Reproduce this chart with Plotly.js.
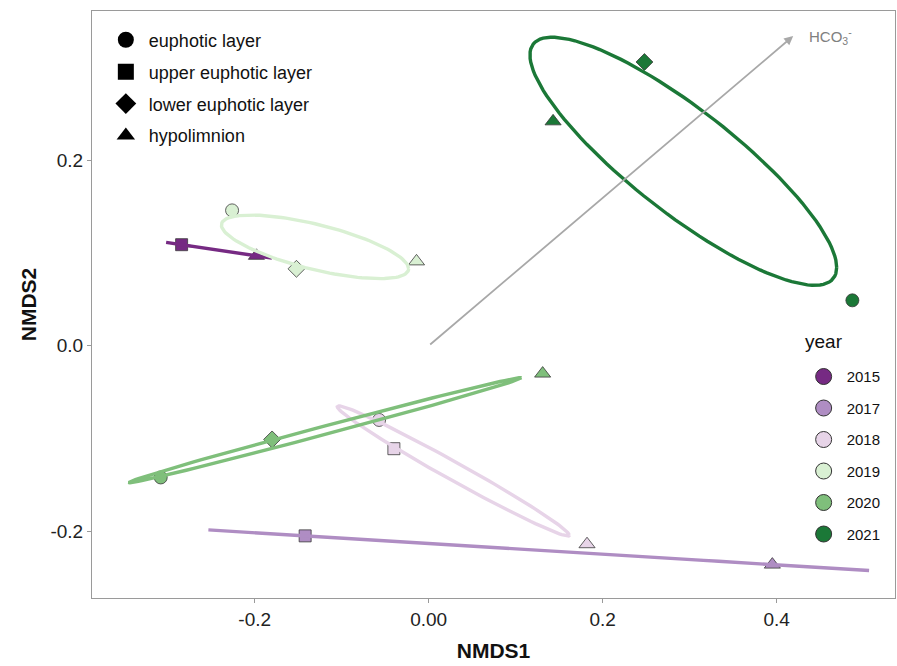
<!DOCTYPE html>
<html><head><meta charset="utf-8">
<script src="https://cdn.plot.ly/plotly-3.0.1.min.js"></script>
<style>html,body{margin:0;padding:0;background:#fff}#chart{width:897px;height:666px}</style>
</head><body><div id="chart"></div>
<script>
// ---- data ----
const years = ['2015', '2017', '2018', '2019', '2020', '2021'];
const yearColors = ['#762a83', '#af8dc3', '#e7d4e8', '#d9f0d3', '#7fbf7b', '#1b7837'];
const layers = ['euphotic layer', 'upper euphotic layer', 'lower euphotic layer', 'hypolimnion'];
const layerSymbols = ['circle', 'square', 'diamond', 'triangle-up'];

const sampleYear = ['2015', '2015', '2017', '2017', '2018', '2018', '2018',
  '2019', '2019', '2019', '2020', '2020', '2020', '2021', '2021', '2021'];
const sampleLayer = ['upper euphotic layer', 'hypolimnion',
  'upper euphotic layer', 'hypolimnion',
  'euphotic layer', 'upper euphotic layer', 'hypolimnion',
  'euphotic layer', 'lower euphotic layer', 'hypolimnion',
  'euphotic layer', 'lower euphotic layer', 'hypolimnion',
  'lower euphotic layer', 'hypolimnion', 'euphotic layer'];
const nmds1 = [-0.284, -0.198, -0.142, 0.395, -0.057, -0.040, 0.182,
  -0.226, -0.152, -0.014, -0.308, -0.180, 0.131, 0.248, 0.143, 0.487];
const nmds2 = [0.109, 0.097, -0.205, -0.236, -0.080, -0.111, -0.214,
  0.146, 0.083, 0.091, -0.142, -0.101, -0.030, 0.306, 0.242, 0.049];

const vectorLabels = ['HCO<sub>3</sub><sup>-</sup>'];
const vectorNMDS1 = [0.419];
const vectorNMDS2 = [0.334];

const xTickVals = [-0.2, 0, 0.2, 0.4];
const xTickText = ['-0.2', '0.00', '0.2', '0.4'];
const yTickVals = [-0.2, 0, 0.2];
const yTickText = ['-0.2', '0.0', '0.2'];

// ---- styles ----
const FONT = 'Liberation Sans, Arial, sans-serif';
const symbolSize = {'circle': 13, 'square': 12, 'diamond': 13, 'triangle-up': 14};

// standard-deviation ellipse (as vegan::ordiellipse kind = "sd")
function sdEllipse(xs, ys) {
  const n = xs.length;
  const mx = xs.reduce((a, b) => a + b, 0) / n;
  const my = ys.reduce((a, b) => a + b, 0) / n;
  let sxx = 0, syy = 0, sxy = 0;
  for (let i = 0; i < n; i++) {
    sxx += (xs[i] - mx) ** 2; syy += (ys[i] - my) ** 2; sxy += (xs[i] - mx) * (ys[i] - my);
  }
  sxx /= (n - 1); syy /= (n - 1); sxy /= (n - 1);
  const l11 = Math.sqrt(sxx), l21 = sxy / l11, l22 = Math.sqrt(Math.max(0, syy - l21 * l21));
  const ex = [], ey = [];
  for (let k = 0; k <= 120; k++) {
    const t = 2 * Math.PI * k / 120;
    const c = Math.cos(t), s = Math.sin(t);
    ex.push(mx + l11 * c);
    ey.push(my + l21 * c + l22 * s);
  }
  return {x: ex, y: ey};
}

const traces = [];
// points
years.forEach((yr, yi) => {
  const idx = sampleYear.map((v, i) => v === yr ? i : -1).filter(i => i >= 0);
  const syms = idx.map(i => layerSymbols[layers.indexOf(sampleLayer[i])]);
  traces.push({
    type: 'scatter', mode: 'markers', showlegend: false, hoverinfo: 'skip',
    x: idx.map(i => nmds1[i]), y: idx.map(i => nmds2[i]),
    marker: {symbol: syms, size: syms.map(s => symbolSize[s]), color: yearColors[yi], opacity: 1,
      line: {color: '#3a3a3a', width: 0.8}}
  });
});
// ellipses
years.forEach((yr, yi) => {
  const idx = sampleYear.map((v, i) => v === yr ? i : -1).filter(i => i >= 0);
  const e = sdEllipse(idx.map(i => nmds1[i]), idx.map(i => nmds2[i]));
  traces.push({
    type: 'scatter', mode: 'lines', showlegend: false, hoverinfo: 'skip',
    x: e.x, y: e.y, line: {color: yearColors[yi], width: 3.4}
  });
});
// legend: layers
layers.forEach((ly, li) => {
  traces.push({
    type: 'scatter', mode: 'markers', name: ly, x: [null], y: [null],
    legend: 'legend', legendgroup: 'L' + li,
    marker: {symbol: layerSymbols[li], size: 22, color: '#000', opacity: 1}
  });
});
// legend: years
years.forEach((yr, yi) => {
  traces.push({
    type: 'scatter', mode: 'markers', name: yr, x: [null], y: [null],
    legend: 'legend2', legendgroup: 'Y' + yi,
    marker: {symbol: 'circle', size: 22, color: yearColors[yi], opacity: 1, line: {color: '#333', width: 1}}
  });
});

const annotations = [];
vectorLabels.forEach((lab, i) => {
  annotations.push({
    x: vectorNMDS1[i], y: vectorNMDS2[i], ax: 0, ay: 0, axref: 'x', ayref: 'y',
    xref: 'x', yref: 'y', text: '', showarrow: true, arrowhead: 2, arrowsize: 1,
    arrowwidth: 1.8, arrowcolor: '#a8a8a8'
  });
  annotations.push({
    x: vectorNMDS1[i], y: vectorNMDS2[i], xref: 'x', yref: 'y', showarrow: false,
    text: lab, xanchor: 'left', yanchor: 'middle', xshift: 14, yshift: 0,
    font: {family: FONT, size: 15, color: '#808080'}
  });
});
// legend title for the year legend
annotations.push({
  xref: 'paper', yref: 'paper', x: 0.8855, y: 0.4375, xanchor: 'left', yanchor: 'middle',
  showarrow: false, text: 'year', font: {family: FONT, size: 19, color: '#111'}
});

const layout = {
  width: 897, height: 666,
  margin: {l: 92, r: 2, t: 11, b: 68},
  paper_bgcolor: '#fff', plot_bgcolor: '#fff',
  font: {family: FONT, color: '#222'},
  xaxis: {
    range: [-0.387, 0.536], tickvals: xTickVals, ticktext: xTickText,
    showgrid: false, zeroline: false, showline: true, mirror: true,
    linecolor: '#9a9a9a', linewidth: 1, ticks: 'outside', ticklen: 4, tickcolor: '#9a9a9a',
    tickfont: {family: FONT, size: 19, color: '#222'},
    title: {text: '<b>NMDS1</b>', font: {family: FONT, size: 21, color: '#111'}, standoff: 14}
  },
  yaxis: {
    range: [-0.272, 0.361], tickvals: yTickVals, ticktext: yTickText,
    showgrid: false, zeroline: false, showline: true, mirror: true,
    linecolor: '#9a9a9a', linewidth: 1, ticks: 'outside', ticklen: 4, tickcolor: '#9a9a9a',
    tickfont: {family: FONT, size: 19, color: '#222'},
    title: {text: '<b>NMDS2</b>', font: {family: FONT, size: 21, color: '#111'}, standoff: 8}
  },
  legend: {
    x: 0.0135, y: 0.982, xanchor: 'left', yanchor: 'top', bgcolor: 'rgba(0,0,0,0)',
    font: {family: FONT, size: 18, color: '#111'}, tracegroupgap: 5.5, traceorder: 'grouped',
    itemsizing: 'trace', itemwidth: 36
  },
  legend2: {
    x: 0.8825, y: 0.405, xanchor: 'left', yanchor: 'top', bgcolor: 'rgba(0,0,0,0)',
    font: {family: FONT, size: 15, color: '#111'}, tracegroupgap: 9, traceorder: 'grouped',
    itemsizing: 'trace', itemwidth: 36
  },
  annotations: annotations,
  showlegend: true
};

Plotly.newPlot('chart', traces, layout, {displayModeBar: false, staticPlot: true});
</script>
</body></html>
